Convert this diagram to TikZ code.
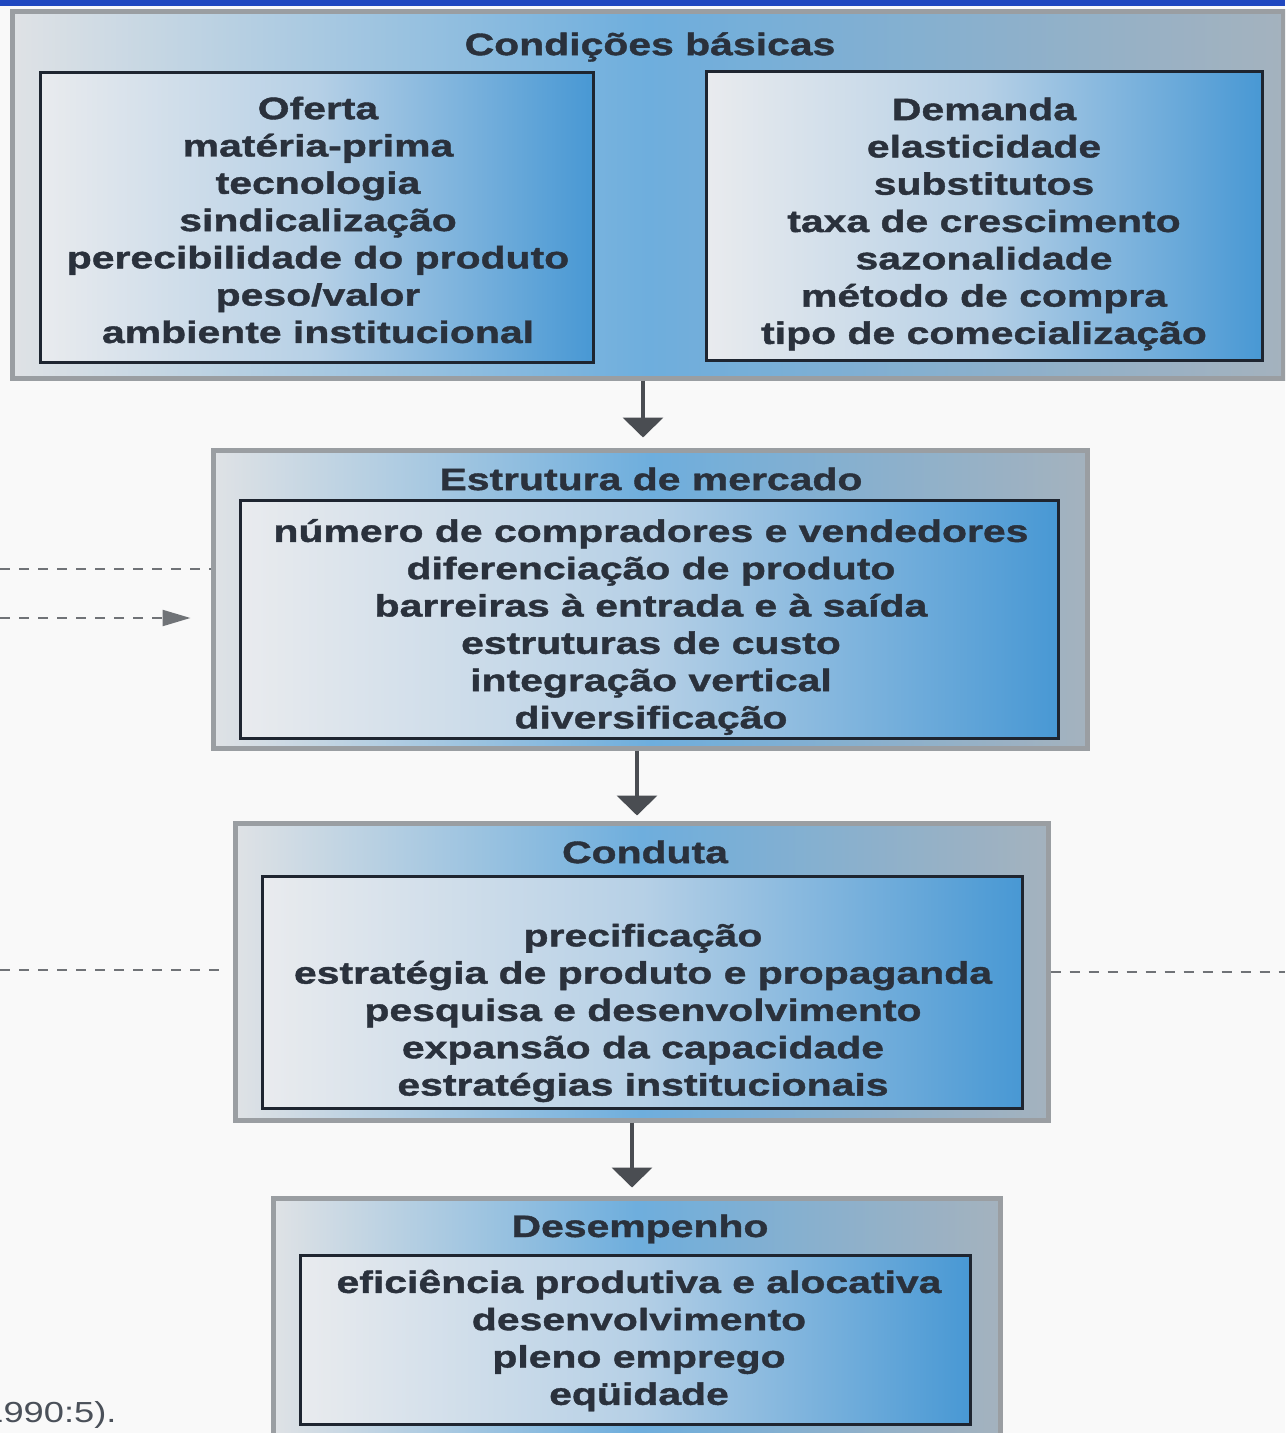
\documentclass[tikz,border=0pt]{standalone}
\usepackage{fontspec}
\usetikzlibrary{arrows.meta}
\newfontfamily\dfont[FakeStretch=1.32,FakeBold=1.3]{Liberation Sans}
\newfontfamily\cfont[FakeStretch=1.25]{Liberation Sans}
\definecolor{txtc}{HTML}{2A313C}
\definecolor{framegray}{HTML}{9A9EA2}
\definecolor{innerline}{HTML}{1E2530}
\definecolor{oL}{HTML}{DFE2E5}
\definecolor{oM}{HTML}{6EAEDD}
\definecolor{oR}{HTML}{A4B2BE}
\definecolor{iL}{HTML}{E9EBEE}
\definecolor{iM}{HTML}{B6D0E6}
\definecolor{iR}{HTML}{4898D4}
\definecolor{arrowc}{HTML}{4A4D52}
\definecolor{dashc}{HTML}{707377}
\definecolor{topblue}{HTML}{2048C0}
\definecolor{paper}{HTML}{F9F9F9}
\begin{document}
\begin{tikzpicture}[x=0.5pt,y=-0.5pt,
  outerbox/.style={draw=framegray, line width=2.5pt, left color=oL, right color=oR, middle color=oM, inner sep=0pt},
  innerbox/.style={draw=innerline, line width=1.5pt, left color=iL, right color=iR, middle color=iM, inner sep=0pt},
  txt/.style={text=txtc, font=\dfont\bfseries\fontsize{15.5pt}{18.65pt}\selectfont, align=center, inner sep=0pt},
  flow/.style={draw=arrowc, line width=2pt, -{Triangle[width=20pt,length=10pt]}},
  dashline/.style={draw=dashc, line width=1.1pt, dash pattern=on 5pt off 4.5pt},
  dasharrow/.style={dashline, -{Triangle[width=8pt,length=14pt]}}]
\useasboundingbox (0,0) rectangle (1285,1433);
\clip (0,0) rectangle (1285,1433);
\fill[paper] (0,0) rectangle (1285,1433);
\fill[topblue] (0,0) rectangle (1285,6);

% Condicoes basicas
\node[outerbox, minimum width=635.5pt, minimum height=183pt] (o1) at (647.5,195) {};
\node[txt] (t1) at (650,47) {Condições básicas};
\node[innerbox, minimum width=276.5pt, minimum height=144.5pt] (i1a) at (316.5,217.5) {};
\node[txt] (x1a) at (318,220) {Oferta\\matéria-prima\\tecnologia\\sindicalização\\perecibilidade do produto\\peso/valor\\ambiente institucional};
\node[innerbox, minimum width=278pt, minimum height=144pt] (i1b) at (984,216) {};
\node[txt] (x1b) at (984,224) {Demanda\\elasticidade\\substitutos\\taxa de crescimento\\sazonalidade\\método de compra\\tipo de comecialização};

% Estrutura de mercado
\node[outerbox, minimum width=437pt, minimum height=149pt] (o2) at (650,599) {};
\node[txt] (t2) at (651,479) {Estrutura de mercado};
\node[innerbox, minimum width=409pt, minimum height=119pt] (i2) at (649,619) {};
\node[txt] (x2) at (651,627) {número de compradores e vendedores\\diferenciação de produto\\barreiras à entrada e à saída\\estruturas de custo\\integração vertical\\diversificação};

% Conduta
\node[outerbox, minimum width=406.5pt, minimum height=148.5pt] (o3) at (641.5,971.5) {};
\node[txt] (t3) at (645,852) {Conduta};
\node[innerbox, minimum width=380pt, minimum height=116pt] (i3) at (642,992) {};
\node[txt] (x3) at (643,1013) {precificação\\estratégia de produto e propaganda\\pesquisa e desenvolvimento\\expansão da capacidade\\estratégias institucionais};

% Desempenho
\node[outerbox, minimum width=363.5pt, minimum height=123.5pt] (o4) at (636.5,1321.5) {};
\node[txt] (t4) at (640,1229) {Desempenho};
\node[innerbox, minimum width=335pt, minimum height=84.5pt] (i4) at (635,1339.5) {};
\node[txt] (x4) at (639,1340.5) {eficiência produtiva e alocativa\\desenvolvimento\\pleno emprego\\eqüidade};

% vertical arrows
\coordinate (ax1) at (643,0);
\coordinate (ax2) at (637,0);
\coordinate (ax3) at (632,0);
\draw[flow] (o1.south -| ax1) -- ([yshift=5pt]o2.north -| ax1);
\draw[flow] (o2.south -| ax2) -- ([yshift=2.5pt]o3.north -| ax2);
\draw[flow] (o3.south -| ax3) -- ([yshift=4pt]o4.north -| ax3);

% dashed links
\coordinate (l1) at (0,569);
\coordinate (l2) at (0,618);
\coordinate (l3) at (0,970);
\coordinate (r3) at (1285,972);
\draw[dashline] (l1) -- (l1 -| o2.west);
\draw[dasharrow] (l2) -- ([xshift=-10pt]l2 -| o2.west);
\draw[dashline] (l3) -- ([xshift=-5pt]l3 -| o3.west);
\draw[dashline] (r3 -| o3.east) -- (r3);

% citation fragment (cut at the left edge, as in the reference)
\node[anchor=base west, inner sep=0pt, text=txtc!85, font=\cfont\fontsize{14.5pt}{17pt}\selectfont] (cite) at (-17,1422) {1990:5).};
\end{tikzpicture}
\end{document}
